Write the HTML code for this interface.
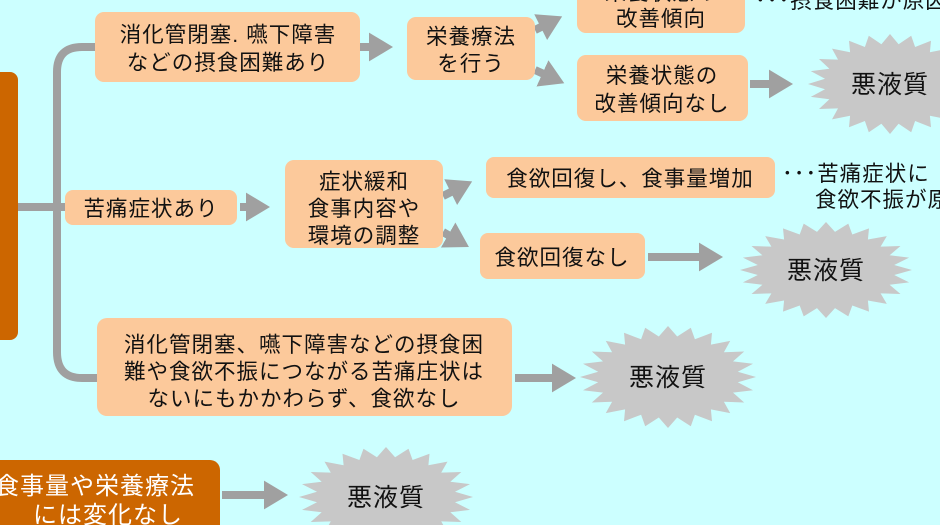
<!DOCTYPE html>
<html><head><meta charset="utf-8"><style>
html,body{margin:0;padding:0;background:#ccffff;}
svg{display:block;}
text{font-family:"Liberation Sans","Noto Sans CJK JP",sans-serif;font-size:21.5px;letter-spacing:1px;fill:#111;text-anchor:middle;}
.w{fill:#fff;font-size:24px;}
</style></head><body>
<svg id="s" width="940" height="525" viewBox="0 0 940 525" xmlns="http://www.w3.org/2000/svg">
<rect width="940" height="525" fill="#ccffff"/>
<defs><marker id="a" markerWidth="4" markerHeight="4" refX="2" refY="2" orient="auto" markerUnits="strokeWidth"><path d="M0,0.2 L3,2 L0,3.8z" fill="#a0a0a0"/></marker></defs>
<g stroke="#a0a0a0" stroke-width="8" fill="none">
<path d="M95,47 H82 Q57,47 57,72 V352 Q57,378 82,378 H97"/>
<path d="M18,207 H65"/>
<path d="M360,47 H385" marker-end="url(#a)"/>
<path d="M240,207 H262" marker-end="url(#a)"/>
<path d="M535,30 L555,20" marker-end="url(#a)"/>
<path d="M535,70 L557,80" marker-end="url(#a)"/>
<path d="M750,84 H785" marker-end="url(#a)"/>
<path d="M443,196 L465,185" marker-end="url(#a)"/>
<path d="M443,232 L462,243" marker-end="url(#a)"/>
<path d="M648,257 H715" marker-end="url(#a)"/>
<path d="M515,378 H568" marker-end="url(#a)"/>
<path d="M222,495 H280" marker-end="url(#a)"/>
</g>
<rect x="-10" y="72" width="28" height="268" rx="8" fill="#cc6600"/>
<rect x="-20" y="460" width="240" height="90" rx="10" fill="#cc6600"/>
<text class="w" x="95" y="494">食事量や栄養療法</text>
<text class="w" x="108" y="523">には変化なし</text>
<g fill="#fcc99b">
<rect x="95" y="12" width="265" height="70" rx="9"/>
<rect x="407" y="17" width="128" height="63" rx="9"/>
<rect x="577" y="-12" width="168" height="45" rx="9"/>
<rect x="577" y="55" width="171" height="66" rx="9"/>
<rect x="65" y="190" width="172" height="35" rx="8"/>
<rect x="285" y="160" width="158" height="88" rx="9"/>
<rect x="486" y="157" width="289" height="41" rx="8"/>
<rect x="480" y="233" width="165" height="46" rx="8"/>
<rect x="97" y="318" width="415" height="98" rx="10"/>
</g>
<text x="228" y="42">消化管閉塞. 嚥下障害</text>
<text x="228" y="70">などの摂食困難あり</text>
<text x="471" y="44">栄養療法</text>
<text x="471" y="71">を行う</text>
<text x="661" y="0">栄養状態の</text>
<text x="661" y="26">改善傾向</text>
<text x="662" y="83">栄養状態の</text>
<text x="662" y="111">改善傾向なし</text>
<text x="151" y="216">苦痛症状あり</text>
<text x="364" y="189">症状緩和</text>
<text x="364" y="216">食事内容や</text>
<text x="364" y="243">環境の調整</text>
<text x="630" y="186">食欲回復し、食事量増加</text>
<text x="562" y="265">食欲回復なし</text>
<text x="304" y="352">消化管閉塞、嚥下障害などの摂食困</text>
<text x="304" y="379">難や食欲不振につながる苦痛庄状は</text>
<text x="304" y="406">ないにもかかわらず、食欲なし</text>
<text x="755" y="8" style="text-anchor:start">･･･摂食困難が原因</text>
<text x="782" y="181" style="text-anchor:start">･･･苦痛症状に</text>
<text x="815" y="207" style="text-anchor:start">食欲不振が原</text>
<g id="stars"></g>
</svg>
<script>
var stars=[[890,84,82,50],[826,270,86,48],[668,377,88,51],[386,497,87,50]];
var g=document.getElementById('stars'),ns='http://www.w3.org/2000/svg';
stars.forEach(function(s){
 var n=24,pts=[];
 for(var i=0;i<n*2;i++){var a=Math.PI*i/n,r=(i%2==0)?1:0.8;
  pts.push((s[0]+Math.cos(a)*s[2]*r).toFixed(1)+','+(s[1]+Math.sin(a)*s[3]*r).toFixed(1));}
 var p=document.createElementNS(ns,'polygon');p.setAttribute('points',pts.join(' '));p.setAttribute('fill','#c8c8c8');g.appendChild(p);
 var t=document.createElementNS(ns,'text');t.setAttribute('x',s[0]);t.setAttribute('y',s[1]+9);t.setAttribute('style','font-size:25px');t.textContent='悪液質';g.appendChild(t);
});
</script>
</body></html>
